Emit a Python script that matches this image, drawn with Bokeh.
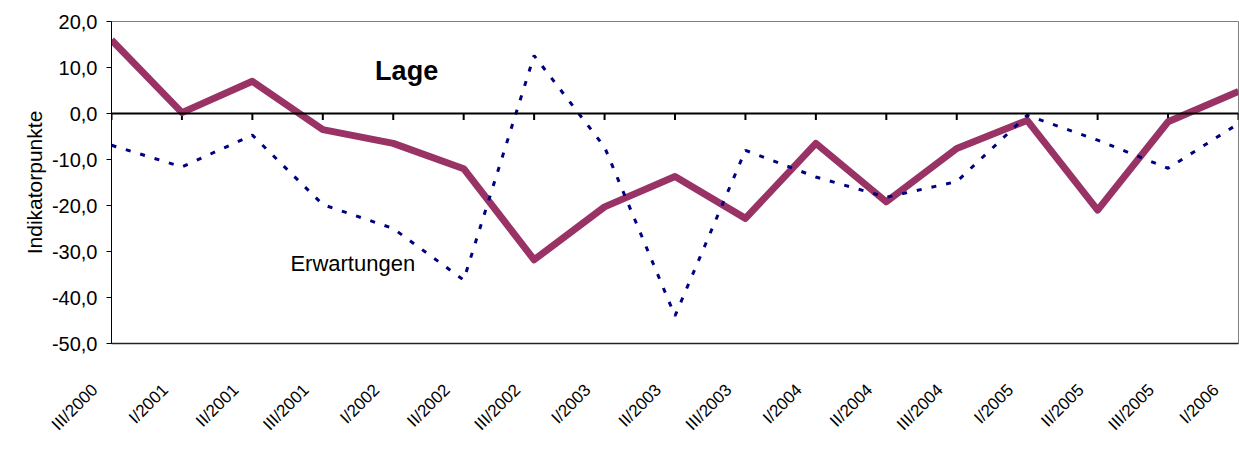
import math
from bokeh.plotting import figure
from bokeh.models import Range1d, FixedTicker, Span, Label
from bokeh.embed import file_html
from bokeh.resources import INLINE

# ---- data ----
categories = ["III/2000", "I/2001", "II/2001", "III/2001", "I/2002", "II/2002",
              "III/2002", "I/2003", "II/2003", "III/2003", "I/2004", "II/2004",
              "III/2004", "I/2005", "II/2005", "III/2005", "I/2006"]
lage = [16.0, 0.2, 7.0, -3.5, -6.5, -12.0, -31.8, -20.3, -13.7, -22.8,
        -6.5, -19.2, -7.6, -1.5, -21.0, -1.8, 4.8]
erwartungen = [-6.9, -11.6, -4.7, -19.8, -25.0, -36.2, 12.6, -7.3, -44.0, -8.0,
               -13.8, -18.2, -14.8, -0.4, -5.8, -11.9, -2.2]
y_ticks = [20, 10, 0, -10, -20, -30, -40, -50]
y_tick_labels = ["20,0", "10,0", "0,0", "-10,0", "-20,0", "-30,0", "-40,0", "-50,0"]
y_title = "Indikatorpunkte"
series_names = ["Lage", "Erwartungen"]

FONT = "Liberation Sans"
n = len(categories)
xs = list(range(n))
y_min, y_max = min(y_ticks), max(y_ticks)
PAD = "\u00a0" * 5   # pushes rotated labels a little left/down of their tick

p = figure(width=1239, height=450,
           x_range=Range1d(0, n - 1), y_range=Range1d(y_min, y_max),
           output_backend="svg", toolbar_location=None,
           min_border_left=111, min_border_right=1,
           min_border_top=21, min_border_bottom=107)
p.grid.visible = False
p.outline_line_color = "#808080"
p.outline_line_width = 1
p.background_fill_color = "white"
p.border_fill_color = "white"

# y axis
ya = p.yaxis[0]
ya.ticker = FixedTicker(ticks=y_ticks)
ya.major_label_overrides = {t: l for t, l in zip(y_ticks, y_tick_labels)}
ya.major_label_text_font = FONT
ya.major_label_text_font_size = "20px"
ya.major_label_text_color = "black"
ya.major_label_standoff = 9
ya.major_tick_out = 5
ya.major_tick_in = 0
ya.major_tick_line_color = "black"
ya.minor_tick_line_color = None
ya.axis_line_color = "black"
ya.axis_line_width = 1
ya.axis_label = y_title
ya.axis_label_text_font = FONT
ya.axis_label_text_font_size = "21px"
ya.axis_label_text_font_style = "normal"
ya.axis_label_text_color = "black"
ya.axis_label_standoff = 3

# x axis: bottom line + rotated category labels
xa = p.xaxis[0]
xa.ticker = FixedTicker(ticks=xs)
xa.major_label_overrides = {i: c + PAD for i, c in zip(xs, categories)}
xa.major_label_orientation = math.pi / 4
xa.major_label_text_font = FONT
xa.major_label_text_font_size = "17px"
xa.major_label_text_color = "black"
xa.major_label_standoff = 27
xa.major_tick_out = 0
xa.major_tick_in = 0
xa.major_tick_line_color = None
xa.minor_tick_line_color = None
xa.axis_line_color = "#222222"
xa.axis_line_width = 1.5

# zero line with tick marks
p.add_layout(Span(location=0, dimension="width", line_color="black", line_width=2))
p.segment(x0=xs, y0=[0] * n, x1=xs, y1=[-1.4] * n, line_color="black", line_width=2)

# series
p.line(xs, lage, line_color="#993366", line_width=7, line_join="round")
p.line(xs, erwartungen, line_color="#000080", line_width=3, line_dash="5 10")

# series annotations
p.add_layout(Label(x=4.19, y=9.2, text=series_names[0], text_align="center",
                   text_baseline="alphabetic", text_font=FONT,
                   text_font_size="27px", text_font_style="bold", text_color="black"))
p.add_layout(Label(x=2.54, y=-32.5, text=series_names[1], text_align="left",
                   text_baseline="alphabetic", text_font=FONT,
                   text_font_size="22px", text_color="black"))

open("out.html", "w").write(file_html(p, INLINE))
